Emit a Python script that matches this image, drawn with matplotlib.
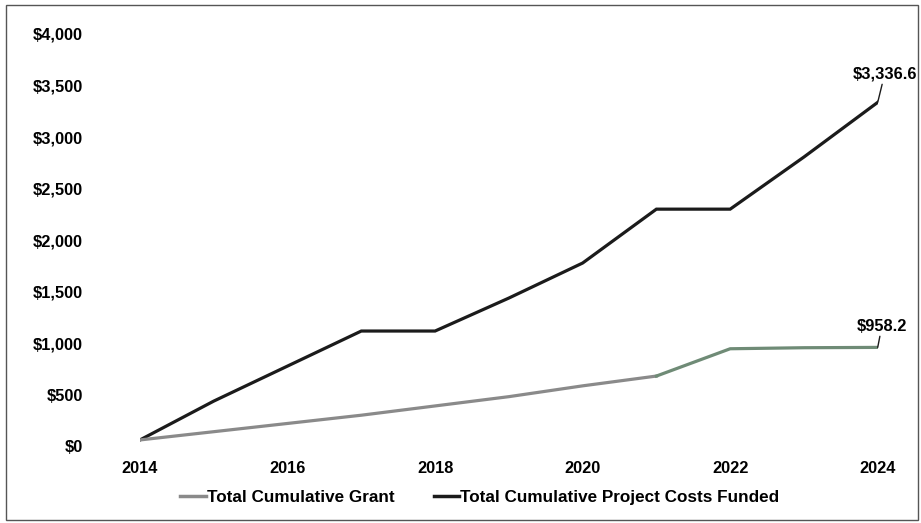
import matplotlib.pyplot as plt
from matplotlib.lines import Line2D
from matplotlib.patches import Rectangle
from matplotlib.ticker import FuncFormatter

years = [2014, 2015, 2016, 2017, 2018, 2019, 2020, 2021, 2022, 2023, 2024]
project_costs = [60, 437, 777, 1117, 1117, 1437, 1777, 2300, 2300, 2806, 3336.6]
grant = [60, 140, 220, 300, 390, 480, 585, 680, 945, 955, 958.2]

x_ticks = [2014, 2016, 2018, 2020, 2022, 2024]
y_ticks = [0, 500, 1000, 1500, 2000, 2500, 3000, 3500, 4000]

plt.rcParams['font.family'] = ['Liberation Sans', 'DejaVu Sans']

fig = plt.figure(figsize=(9.21, 5.23), dpi=100)
fig.patches.append(Rectangle((0.006, 0.006), 0.991, 0.985, transform=fig.transFigure,
                             fill=False, edgecolor='#555555', linewidth=1.0))
ax = fig.add_axes([0.152, 0.147, 0.801, 0.788])

black = '#1b1b1b'
gray = '#8a8a8a'
green_gray = '#6f8b76'

ax.plot(years, project_costs, color=black, linewidth=2.3, solid_joinstyle='miter')
ax.plot(years[:8], grant[:8], color=gray, linewidth=2.3)
ax.plot(years[7:], grant[7:], color=green_gray, linewidth=2.3)

# end-of-line value labels with short leader lines
ax.annotate(f'${project_costs[-1]:,.1f}', xy=(years[-1], project_costs[-1]),
            xytext=(5, 15), textcoords='offset points', ha='center', va='bottom',
            fontsize=11.8, fontweight='bold',
            arrowprops=dict(arrowstyle='-', color=black, linewidth=1.0, shrinkA=0, shrinkB=0))
ax.annotate(f'${grant[-1]:,.1f}', xy=(years[-1], grant[-1]),
            xytext=(3, 10), textcoords='offset points', ha='center', va='bottom',
            fontsize=11.8, fontweight='bold',
            arrowprops=dict(arrowstyle='-', color=black, linewidth=1.0, shrinkA=0, shrinkB=0))

ax.set_xlim(2014, 2024)
ax.set_ylim(0, 4000)
ax.set_xticks(x_ticks)
ax.set_yticks(y_ticks)
ax.yaxis.set_major_formatter(FuncFormatter(lambda v, p: f'${v:,.0f}'))
ax.tick_params(axis='y', length=0, pad=41, labelsize=11.8)
ax.tick_params(axis='x', length=0, pad=11, labelsize=11.8)
for lbl in ax.get_xticklabels() + ax.get_yticklabels():
    lbl.set_fontweight('bold')
for s in ax.spines.values():
    s.set_visible(False)

handles = [Line2D([], [], color=gray, linewidth=2.5),
           Line2D([], [], color=black, linewidth=2.5)]
fig.legend(handles, ['Total Cumulative Grant', 'Total Cumulative Project Costs Funded'],
           loc='center', bbox_to_anchor=(0.521, 0.049), ncol=2, frameon=False,
           handlelength=1.5, handletextpad=0.05, columnspacing=2.3,
           prop={'weight': 'bold', 'size': 12.3})

fig.savefig('out.png', dpi=100)
